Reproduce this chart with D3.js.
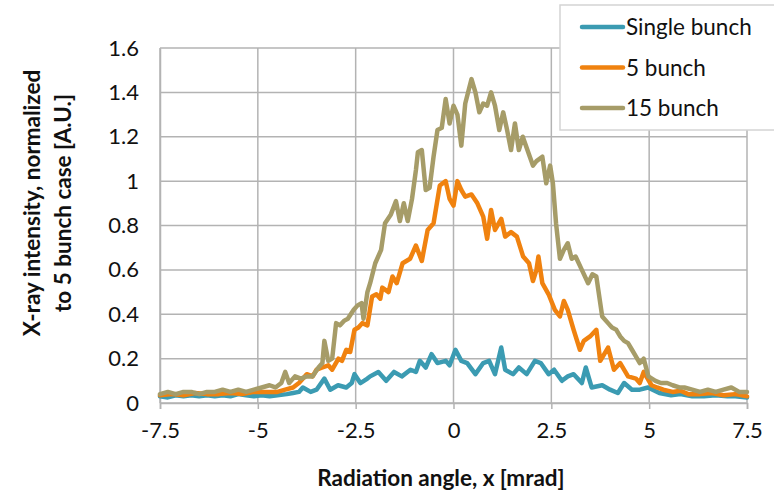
<!DOCTYPE html>
<html>
<head>
<meta charset="utf-8">
<script src="https://cdn.jsdelivr.net/npm/d3@7"></script>
<style>
  body { margin: 0; background: #fff; }
  svg { display: block; }
  text { font-family: Lato, "Open Sans", sans-serif; fill: #111; }
</style>
</head>
<body>
<div class="graphbox"></div>
<script>
// readings of the three curves, x in mrad
var xSingle = [-7.5,-7.3,-7.1,-6.9,-6.7,-6.5,-6.3,-6.1,-5.9,-5.7,-5.5,-5.3,-5.1,-4.9,-4.7,-4.5,-4.26,-4.1,-3.95,-3.85,-3.65,-3.5,-3.3,-3.15,-2.95,-2.74,-2.6,-2.53,-2.38,-2.2,-2.13,-1.92,-1.72,-1.52,-1.32,-1.1,-0.96,-0.86,-0.71,-0.56,-0.41,-0.2,-0.1,0.05,0.2,0.35,0.56,0.76,0.91,1.06,1.22,1.32,1.52,1.67,1.87,2.08,2.23,2.43,2.57,2.77,2.92,3.07,3.28,3.38,3.53,3.8,4.0,4.2,4.36,4.56,4.76,4.97,5.26,5.56,5.8,6.1,6.4,6.7,7.0,7.2,7.5]
var ySingle = [0.03,0.025,0.035,0.03,0.035,0.03,0.035,0.03,0.035,0.03,0.04,0.035,0.03,0.035,0.03,0.035,0.04,0.045,0.05,0.07,0.05,0.06,0.11,0.06,0.08,0.07,0.09,0.13,0.09,0.11,0.12,0.14,0.10,0.14,0.12,0.15,0.14,0.19,0.16,0.22,0.18,0.19,0.17,0.24,0.19,0.18,0.13,0.18,0.19,0.13,0.25,0.15,0.13,0.16,0.13,0.19,0.18,0.13,0.15,0.10,0.12,0.13,0.09,0.16,0.07,0.08,0.06,0.045,0.09,0.06,0.06,0.07,0.045,0.035,0.04,0.03,0.03,0.035,0.03,0.03,0.025]

var x5 = [-7.5,-7.2,-6.9,-6.6,-6.3,-6.0,-5.7,-5.4,-5.1,-4.8,-4.5,-4.3,-4.1,-3.95,-3.75,-3.6,-3.5,-3.35,-3.2,-3.1,-2.94,-2.85,-2.74,-2.64,-2.53,-2.43,-2.33,-2.2,-2.08,-1.97,-1.87,-1.82,-1.66,-1.56,-1.45,-1.3,-1.11,-0.96,-0.81,-0.66,-0.51,-0.35,-0.2,-0.1,0,0.1,0.2,0.3,0.46,0.61,0.76,0.86,0.96,1.06,1.22,1.32,1.47,1.62,1.78,1.93,2.03,2.12,2.17,2.27,2.43,2.59,2.72,2.82,2.92,3.07,3.23,3.33,3.49,3.65,3.75,3.95,4.1,4.26,4.46,4.66,4.76,4.86,5.06,5.2,5.36,5.6,5.8,6.0,6.3,6.6,6.9,7.2,7.5]
var y5 = [0.035,0.04,0.035,0.045,0.04,0.04,0.045,0.04,0.05,0.05,0.05,0.06,0.07,0.09,0.13,0.12,0.15,0.16,0.17,0.15,0.20,0.19,0.24,0.23,0.33,0.34,0.36,0.35,0.48,0.49,0.47,0.52,0.50,0.57,0.54,0.63,0.65,0.71,0.64,0.78,0.81,0.98,1.00,0.92,0.89,1.00,0.96,0.93,0.94,0.90,0.84,0.74,0.87,0.78,0.83,0.75,0.77,0.75,0.66,0.63,0.55,0.60,0.66,0.54,0.49,0.42,0.39,0.46,0.42,0.33,0.24,0.28,0.30,0.33,0.19,0.25,0.15,0.18,0.12,0.11,0.09,0.14,0.08,0.07,0.06,0.05,0.055,0.04,0.04,0.045,0.035,0.04,0.03]

var x15 = [-7.5,-7.3,-7.1,-6.9,-6.7,-6.5,-6.3,-6.1,-5.9,-5.7,-5.5,-5.3,-5.1,-4.9,-4.7,-4.55,-4.4,-4.3,-4.2,-4.05,-3.9,-3.75,-3.6,-3.45,-3.35,-3.3,-3.2,-3.1,-3.0,-2.9,-2.8,-2.7,-2.55,-2.45,-2.35,-2.3,-2.2,-2.13,-2.0,-1.85,-1.75,-1.6,-1.47,-1.37,-1.27,-1.17,-1.06,-0.96,-0.91,-0.81,-0.71,-0.61,-0.51,-0.41,-0.3,-0.2,-0.1,0,0.1,0.2,0.3,0.46,0.56,0.66,0.76,0.86,0.96,1.06,1.17,1.27,1.37,1.47,1.57,1.67,1.77,1.93,2.03,2.12,2.27,2.37,2.47,2.54,2.62,2.72,2.82,2.92,3.02,3.12,3.28,3.44,3.55,3.65,3.8,3.95,4.05,4.16,4.26,4.36,4.46,4.56,4.66,4.76,4.86,4.98,5.16,5.3,5.46,5.6,5.77,5.9,6.1,6.3,6.5,6.7,6.9,7.1,7.3,7.5]
var y15 = [0.04,0.05,0.04,0.05,0.05,0.04,0.05,0.05,0.06,0.05,0.06,0.05,0.06,0.07,0.08,0.07,0.09,0.14,0.09,0.12,0.11,0.12,0.12,0.16,0.18,0.28,0.19,0.20,0.36,0.35,0.37,0.38,0.42,0.44,0.45,0.38,0.50,0.54,0.63,0.69,0.81,0.85,0.91,0.82,0.90,0.82,0.92,1.05,1.13,1.14,0.96,0.97,1.11,1.23,1.24,1.37,1.26,1.34,1.30,1.16,1.35,1.46,1.40,1.31,1.35,1.34,1.40,1.34,1.23,1.31,1.23,1.14,1.26,1.14,1.20,1.12,1.07,1.09,1.11,0.99,1.07,0.99,0.81,0.65,0.69,0.72,0.65,0.66,0.60,0.54,0.58,0.57,0.39,0.36,0.34,0.33,0.30,0.28,0.27,0.24,0.21,0.18,0.20,0.12,0.10,0.09,0.09,0.08,0.07,0.07,0.06,0.05,0.06,0.05,0.06,0.07,0.05,0.05]

var seriesNames = ["Single bunch", "5 bunch", "15 bunch"]
var seriesCols = ["#3b9bb2", "#f0820f", "#a69c68"]
var xTicks = [-7.5, -5, -2.5, 0, 2.5, 5, 7.5]
var yTicks = [0, 0.2, 0.4, 0.6, 0.8, 1, 1.2, 1.4, 1.6]

var svgWidth = 774;
var svgHeight = 490;
var plotL = 160, plotR = 747, plotT = 48, plotB = 403;

var mysvg = d3.select(".graphbox")
  .append("svg")
  .attr("width", svgWidth)
  .attr("height", svgHeight)
 ;

var xScale = d3.scaleLinear().domain([-7.5, 7.5]).range([plotL, plotR]);
var yScale = d3.scaleLinear().domain([0, 1.6]).range([plotB, plotT]);

// gridlines
mysvg.append("g").selectAll("line")
  .data(xTicks)
  .enter().append("line")
  .attr("x1", function(d) { return xScale(d); })
  .attr("x2", function(d) { return xScale(d); })
  .attr("y1", plotT).attr("y2", plotB)
  .attr("stroke", "#b3b3b3").attr("stroke-width", 1.5)
 ;
mysvg.append("g").selectAll("line")
  .data(yTicks)
  .enter().append("line")
  .attr("x1", plotL).attr("x2", plotR)
  .attr("y1", function(d) { return yScale(d); })
  .attr("y2", function(d) { return yScale(d); })
  .attr("stroke", "#b3b3b3").attr("stroke-width", 1.5)
 ;

// axes
var xAxis = mysvg.append("g")
  .attr("transform", "translate(0," + plotB + ")")
  .call(d3.axisBottom(xScale).tickValues(xTicks).tickSize(6).tickPadding(13)
    .tickFormat(function(d) { return d; }));
var yAxis = mysvg.append("g")
  .attr("transform", "translate(" + plotL + ",0)")
  .call(d3.axisLeft(yScale).tickValues(yTicks).tickSize(0).tickPadding(21)
    .tickFormat(function(d) { return d; }));

[xAxis, yAxis].forEach(function(ax) {
  ax.select(".domain").attr("stroke", "#b3b3b3").attr("stroke-width", 1.5);
  ax.selectAll(".tick line").attr("stroke", "#b3b3b3").attr("stroke-width", 1.5);
  ax.selectAll("text").attr("font-size", "22px").attr("fill", "#111")
    .attr("font-family", "Lato, sans-serif");
});

// curves
var allX = [xSingle, x5, x15];
var allY = [ySingle, y5, y15];
var lineGen = d3.line()
  .x(function(d) { return xScale(d[0]); })
  .y(function(d) { return yScale(d[1]); });

for (var s = 0; s < 3; s++) {
  var pts = d3.zip(allX[s], allY[s]);
  mysvg.append("path")
    .datum(pts)
    .attr("d", lineGen)
    .attr("fill", "none")
    .attr("stroke", seriesCols[s])
    .attr("stroke-width", 4.5)
    .attr("stroke-linejoin", "round")
    .attr("stroke-linecap", "round");
}

// legend
var leg = mysvg.append("g");
leg.append("rect")
  .attr("x", 560).attr("y", 5)
  .attr("width", 240).attr("height", 125)
  .attr("fill", "#fff").attr("stroke", "#d4d4d4").attr("stroke-width", 1.5);
var rows = leg.selectAll("g")
  .data(seriesNames)
  .enter().append("g")
  .attr("transform", function(d, i) { return "translate(0," + (27 + i * 40.5) + ")"; });
rows.append("line")
  .attr("x1", 582).attr("x2", 623).attr("y1", 0).attr("y2", 0)
  .attr("stroke", function(d, i) { return seriesCols[i]; })
  .attr("stroke-width", 4.5)
  .attr("stroke-linecap", "round");
rows.append("text")
  .attr("x", 626).attr("y", 8)
  .attr("font-size", "22.5px")
  .text(function(d) { return d; });

// titles
mysvg.append("text")
  .attr("x", 441).attr("y", 486)
  .attr("text-anchor", "middle")
  .attr("font-size", "22.5px").attr("font-weight", "bold")
  .text("Radiation angle, x [mrad]");

var yt = mysvg.append("text")
  .attr("transform", "translate(0,203) rotate(-90)")
  .attr("text-anchor", "middle")
  .attr("font-size", "22.5px").attr("font-weight", "bold");
yt.append("tspan").attr("x", 0).attr("y", 40).text("X-ray intensity, normalized");
yt.append("tspan").attr("x", 0).attr("y", 71).text("to 5 bunch case [A.U.]");
</script>
</body>
</html>
